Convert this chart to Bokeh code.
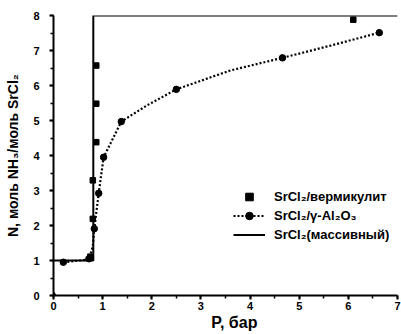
from bokeh.plotting import figure
from bokeh.models import Legend, LegendItem, Range1d, FixedTicker
from bokeh.embed import file_html
from bokeh.resources import INLINE

# SrCl2 / vermiculite (squares)
verm_p = [0.75, 0.80, 0.80, 0.87, 0.87, 0.87, 6.10]
verm_n = [1.11, 2.19, 3.29, 4.38, 5.48, 6.57, 7.88]

# SrCl2 / gamma-Al2O3 (measured points)
al_p = [0.20, 0.72, 0.83, 0.92, 1.02, 1.38, 2.50, 4.66, 6.63]
al_n = [0.95, 1.05, 1.91, 2.92, 3.95, 4.97, 5.89, 6.79, 7.51]
# dotted fit curve
curve_p = [0.20, 0.72, 0.80, 0.83, 0.92, 1.02, 1.19, 1.38, 1.90, 2.50, 3.60, 4.66, 5.64, 6.63]
curve_n = [0.95, 1.03, 1.40, 1.91, 2.92, 3.95, 4.43, 4.97, 5.43, 5.89, 6.43, 6.79, 7.14, 7.51]
origin_p = [0.0]
origin_n = [0.0]

# SrCl2 bulk (step line)
bulk_p = [0.0, 0.81, 0.81, 7.0]
bulk_n = [1.0, 1.0, 8.0, 8.0]

x_ticks = [0, 1, 2, 3, 4, 5, 6, 7]
y_ticks = [0, 1, 2, 3, 4, 5, 6, 7, 8]

FONT = "Liberation Sans"

p = figure(width=401, height=334, output_backend="svg", toolbar_location=None,
           x_range=Range1d(0, 7), y_range=Range1d(0, 8),
           min_border_left=53, min_border_right=4, min_border_top=15, min_border_bottom=39)
p.outline_line_color = None
p.grid.visible = False

r_bulk = p.line(bulk_p, bulk_n, line_color="black", line_width=2)
r_al_line = p.line(curve_p, curve_n, line_color="black", line_width=2.2, line_dash="2 2")
r_al = p.scatter(al_p, al_n, marker="circle", size=6.5, color="black")
p.scatter(origin_p, origin_n, marker="diamond", size=8, color="black")
r_verm = p.scatter(verm_p, verm_n, marker="square", size=5.5, color="black")

for ax in (p.xaxis[0], p.yaxis[0]):
    ax.axis_line_width = 2
    ax.axis_line_color = "black"
    ax.major_tick_line_color = "black"
    ax.minor_tick_line_color = "black"
    ax.major_tick_line_width = 2
    ax.minor_tick_line_width = 1.5
    ax.major_tick_out = 4
    ax.major_tick_in = 0
    ax.minor_tick_out = 3
    ax.minor_tick_in = 0
    ax.major_label_text_font = FONT
    ax.major_label_text_font_style = "bold"
    ax.major_label_text_font_size = "11px"
    ax.major_label_text_color = "black"
    ax.axis_label_text_font = FONT
    ax.axis_label_text_font_style = "bold"
    ax.axis_label_text_color = "black"

p.xaxis.axis_label_text_font_size = "16px"
p.yaxis.axis_label_text_font_size = "14px"
p.xaxis.ticker = FixedTicker(ticks=x_ticks, minor_ticks=[i * 0.5 for i in range(15)])
p.yaxis.ticker = FixedTicker(ticks=y_ticks, minor_ticks=[i * 0.5 for i in range(17)])
p.xaxis.axis_label = "\u00a0\u00a0\u00a0\u00a0P, бар"
p.yaxis.axis_label = "N, моль NH₃/моль SrCl₂"
p.xaxis.major_label_standoff = 2
p.xaxis.axis_label_standoff = 1
p.yaxis.major_label_standoff = 10
p.yaxis.axis_label_standoff = 9

legend = Legend(items=[
    LegendItem(label="SrCl₂/вермикулит", renderers=[r_verm]),
    LegendItem(label="SrCl₂/γ-Al₂O₃", renderers=[r_al_line, r_al]),
    LegendItem(label="SrCl₂(массивный)", renderers=[r_bulk]),
], location=(180, 51))
legend.background_fill_alpha = 0
legend.border_line_color = None
legend.padding = 0
legend.margin = 0
legend.spacing = 0
legend.glyph_width = 32
legend.glyph_height = 19
legend.label_height = 19
legend.label_standoff = 9
legend.label_text_font = FONT
legend.label_text_font_style = "bold"
legend.label_text_font_size = "13px"
legend.label_text_color = "black"
p.add_layout(legend, "center")

open("out.html", "w").write(file_html(p, INLINE))
